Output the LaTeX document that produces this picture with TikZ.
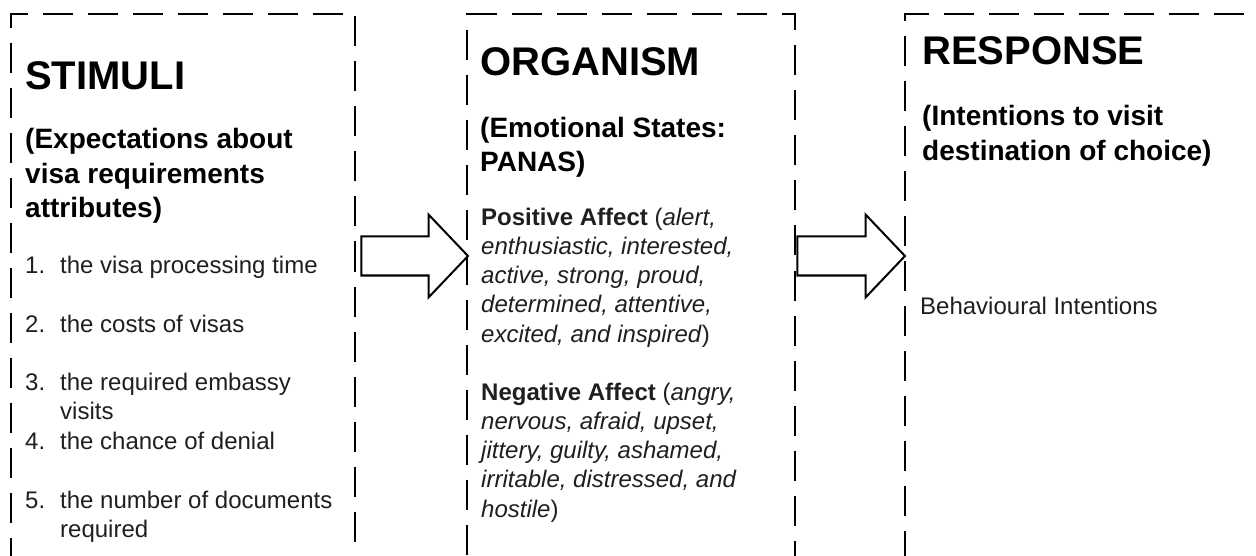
\documentclass[tikz,border=0pt]{standalone}
\usepackage{fontspec}
\setmainfont{Liberation Sans}
\usetikzlibrary{calc}
\begin{document}
\begin{tikzpicture}[x=1pt,y=-1pt,
  frame/.style={draw=black, line width=2.4pt, dash pattern=on 30pt off 15pt,
    inner sep=0pt, anchor=north west, minimum height=543.3pt},
  title/.style={anchor=base west, inner sep=0pt, font=\fontsize{40}{48}\selectfont\bfseries},
  subtitle/.style={anchor=base west, inner sep=0pt, align=left,
    font=\fontsize{28}{34.5}\selectfont\bfseries},
  body/.style={anchor=base west, inner sep=0pt, align=left,
    font=\fontsize{24}{29.3}\selectfont, text=black!88},
  blockarrow/.style={draw=black, line width=2pt, fill=white, line join=miter}]
\useasboundingbox (0,0) rectangle (1256,556);

% the three stages
\node[frame, minimum width=344pt] (stim) at (10,13) {};
\node[frame, minimum width=328pt] (org)  at (466,13) {};
\node[frame, minimum width=370pt] (resp) at (904,13) {};

% block arrows between the stages
\coordinate (t1) at ($(stim.east |- 0,256)+(5,0)$);
\coordinate (h1) at ($(org.west |- 0,256)+(2,0)$);
\coordinate (t2) at ($(org.east |- 0,256)+(1,0)$);
\coordinate (h2) at ($(resp.west |- 0,256)+(1,0)$);
\foreach \t/\h in {t1/h1, t2/h2}{
  \draw[blockarrow] ($(\t)+(0,-19.5)$) -- ($(\h)+(-39.5,-19.5)$) -- ($(\h)+(-39.5,-41.5)$)
    -- (\h) -- ($(\h)+(-39.5,41.5)$) -- ($(\h)+(-39.5,19.5)$) -- ($(\t)+(0,19.5)$) -- cycle;
}

% STIMULI (multi-line nodes sit on the baseline of their last line)
\node[title] (stimT) at (25,90) {STIMULI};
\node[subtitle] (stimS) at (25,218) {(Expectations about\\visa requirements\\attributes)};
\node[body] (n1) at (25,273) {1.};
\node[body] (i1) at (60,273) {the visa processing time};
\node[body] (n2) at (25,332) {2.};
\node[body] (i2) at (60,332) {the costs of visas};
\node[body] (n3) at (25,390) {3.};
\node[body] (i3) at (60,419.3) {the required embassy\\visits};
\node[body] (n4) at (25,449) {4.};
\node[body] (i4) at (60,449) {the chance of denial};
\node[body] (n5) at (25,508) {5.};
\node[body] (i5) at (60,537.3) {the number of documents\\required};

% ORGANISM
\node[title] (orgT) at (480,76) {ORGANISM};
\node[subtitle] (orgS) at (480,172) {(Emotional States:\\PANAS)};
\node[body] (pos) at (481,342.2) {\textbf{Positive Affect} (\textit{alert,}\\
  \textit{enthusiastic, interested,}\\
  \textit{active, strong, proud,}\\
  \textit{determined, attentive,}\\
  \textit{excited, and inspired})};
\node[body] (neg) at (481,517.2) {\textbf{Negative Affect} (\textit{angry,}\\
  \textit{nervous, afraid, upset,}\\
  \textit{jittery, guilty, ashamed,}\\
  \textit{irritable, distressed, and}\\
  \textit{hostile})};

% RESPONSE
\node[title] (respT) at (922,65) {RESPONSE};
\node[subtitle] (respS) at (922,160.5) {(Intentions to visit\\destination of choice)};
\node[body] (bi) at (920,314) {Behavioural Intentions};
\end{tikzpicture}
\end{document}
